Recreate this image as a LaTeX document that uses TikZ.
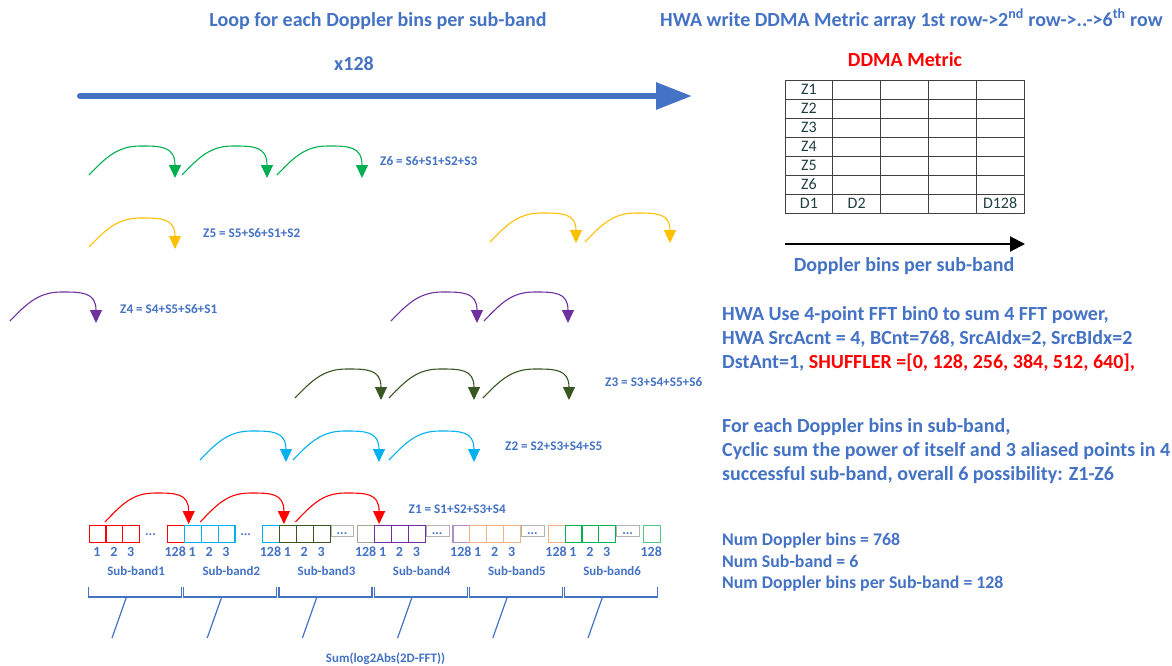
\documentclass[tikz,border=0pt]{standalone}
\usepackage{fontspec}
\setmainfont{Carlito}
\usetikzlibrary{arrows.meta,calc}
\definecolor{tiblue}{HTML}{4472C4}
\definecolor{cRed}{HTML}{FF0000}
\definecolor{cCyan}{HTML}{00B0F0}
\definecolor{cDkGreen}{HTML}{385723}
\definecolor{cPurple}{HTML}{7030A0}
\definecolor{cOrange}{HTML}{F4B183}
\definecolor{cGreen}{HTML}{00B050}
\definecolor{cYellow}{HTML}{FFC000}
\definecolor{cellText}{HTML}{203F3F}
\colorlet{cDkGreenL}{cDkGreen!50}
\colorlet{cPurpleL}{cPurple!55}
\colorlet{cGreenL}{cGreen!70}
\begin{document}
\begin{tikzpicture}[x=1pt,y=-1pt,
  big/.style={inner sep=0pt,text=tiblue,font=\bfseries\fontsize{20}{24}\selectfont,text height=12.9pt,text depth=0pt},
  mid/.style={big,font=\bfseries\fontsize{17.8}{21}\selectfont,text height=11.5pt},
  small/.style={inner sep=0pt,text=tiblue,font=\bfseries\fontsize{13.2}{15}\selectfont,text height=8.5pt,text depth=0pt},
  sbl/.style={small,font=\bfseries\fontsize{12.9}{15}\selectfont},
  num/.style={small,font=\bfseries\fontsize{14}{16}\selectfont,text height=9pt},
  cell/.style={draw=black!75,line width=0.8pt,minimum width=47.8pt,minimum height=19pt,inner sep=0pt,text=cellText,font=\fontsize{16}{18}\selectfont},
  bin/.style={draw,line width=1.1pt,minimum width=16.9pt,minimum height=16.7pt,inner sep=0pt,anchor=north west},
  gapbox/.style={draw=black!30,line width=1pt,minimum width=22.6pt,minimum height=11pt,inner sep=0pt,anchor=north west},
  arcline/.style={line width=1.1pt,-{Triangle[length=13pt,width=12pt]}},
  loop arc/.style={to path={let \p1=(\tikztostart),\p2=(\tikztotarget),
      \p3=({\x1+0.6*(\x2-\x1)},{\y1+29pt}) in
      .. controls ($(\p1)+(18pt,19pt)$) and ($(\p3)+(-22pt,0pt)$) .. (\p3)
      .. controls ($(\p3)+(20pt,0pt)$) and (\x2,\y3) .. (\tikztotarget)}},
  brace/.style={draw=tiblue,line width=1.2pt}
]
\fill[white] (0,0) rectangle (1172,665);
\useasboundingbox (0,0) rectangle (1172,665);

% headings and the loop arrow
\node[big] (loop) at (378,20) {Loop for each Doppler bins per sub-band};
\node[big] (x128) at (354,64) {x128};
\coordinate (loopA) at (80,96);
\coordinate (loopB) at (692,96);
\draw[tiblue,line width=6pt,line cap=round,-{Triangle[length=36pt,width=26pt]}] (loopA) -- (loopB);
\node[big,anchor=west] (hwa) at (660,20) {HWA write DDMA Metric array 1st row->2\textsuperscript{nd} row->..->6\textsuperscript{th} row};

% DDMA metric array
\node[big,text=cRed] (ddma) at (905,60) {DDMA Metric};
\foreach \r in {1,...,6}{
  \node[cell] (m-\r-1) at ({785+47.8*0.5},{80+19*(\r-0.5)}) {Z\r};
  \foreach \cc in {2,...,5}
    \node[cell] (m-\r-\cc) at ({785+47.8*(\cc-0.5)},{80+19*(\r-0.5)}) {};
}
\foreach \cc/\t in {1/D1,2/D2,3/,4/,5/D128}
  \node[cell] (m-7-\cc) at ({785+47.8*(\cc-0.5)},{80+19*6.5}) {\t};
\coordinate (dopA) at (785,244);
\coordinate (dopB) at (1025,244);
\draw[line width=2pt,-{Triangle[length=15pt,width=15pt]}] (dopA) -- (dopB);
\node[big] (dop) at (904,265) {Doppler bins per sub-band};

% description on the right
\node[big,anchor=west] (t1) at (722,314) {HWA Use 4-point FFT bin0 to sum 4 FFT power,};
\node[big,anchor=west] (t2) at (722,338) {HWA SrcAcnt = 4, BCnt=768, SrcAIdx=2, SrcBIdx=2};
\node[big,anchor=west] (t3) at (722,362) {DstAnt=1, \textcolor{cRed}{SHUFFLER =[0, 128, 256, 384, 512, 640],}};
\node[big,anchor=west] (t4) at (722,426) {For each Doppler bins in sub-band,};
\node[big,anchor=west] (t5) at (722,450) {Cyclic sum the power of itself and 3 aliased points in 4};
\node[big,anchor=west] (t6) at (722,474) {successful sub-band, overall 6 possibility: Z1-Z6};
\node[mid,anchor=west] (t7) at (722,540) {Num Doppler bins = 768};
\node[mid,anchor=west] (t8) at (722,562) {Num Sub-band = 6};
\node[mid,anchor=west] (t9) at (722,583) {Num Doppler bins per Sub-band = 128};

% aliasing hops for each combination
\foreach \nm/\col/\xa/\ya/\xb/\yb in {
  g1/cGreen/89/175/175/178, g2/cGreen/182/175/267/178, g3/cGreen/277/175/362/178,
  y1/cYellow/89/247/175/249, y2/cYellow/490/242/576/243, y3/cYellow/585/242/670/243,
  p1/cPurple/10/321/96/323, p2/cPurple/391/321/477/323, p3/cPurple/484/321/568/323,
  d1/cDkGreen/295/398/381/400, d2/cDkGreen/389/398/474/400, d3/cDkGreen/483/398/569/400,
  c1/cCyan/200/460/286/462, c2/cCyan/293/460/379/462, c3/cCyan/389/460/474/462}{
  \coordinate (\nm-s) at (\xa,\ya);
  \coordinate (\nm-t) at (\xb,\yb);
  \draw[arcline,\col] (\nm-s) to[loop arc] (\nm-t);
}
\node[small,anchor=west] (z6) at (380,161.7) {Z6 = S6+S1+S2+S3};
\node[small,anchor=west] (z5) at (203,233) {Z5 = S5+S6+S1+S2};
\node[small,anchor=west] (z4) at (120,309) {Z4 = S4+S5+S6+S1};
\node[small,anchor=west] (z3) at (605,382.7) {Z3 = S3+S4+S5+S6};
\node[small,anchor=west] (z2) at (505,446) {Z2 = S2+S3+S4+S5};
\node[small,anchor=west] (z1) at (408.5,509) {Z1 = S1+S2+S3+S4};

% sub-bands of Doppler bins
\foreach \k/\col/\colb/\gap in {1/cRed/cRed/0,2/cCyan/cCyan/0,3/cDkGreen/cDkGreenL/1,
    4/cPurple/cPurpleL/1,5/cOrange/cOrange/1,6/cGreen/cGreenL/1}{
  \pgfmathsetmacro\s{88.5+95.2*(\k-1)}
  \node[bin,draw=\col] (b\k-1) at (\s,525) {};
  \node[bin,draw=\col] (b\k-2) at (\s+16.9,525) {};
  \node[bin,draw=\col] (b\k-3) at (\s+33.8,525) {};
  \node[bin,draw=\colb] (b\k-128) at (\s+78.3,525) {};
  \ifnum\gap=1
    \node[gapbox] (g\k) at (\s+51.8,525) {};
    \node[small] (gd\k) at (\s+63.1,530.5) {...};
  \else
    \node[small] (gd\k) at (\s+62,531) {...};
  \fi
  \node[num] (n\k-1) at (\s+8.45,551.7) {1};
  \node[num] (n\k-2) at (\s+25.35,551.7) {2};
  \node[num] (n\k-3) at (\s+42.25,551.7) {3};
  \node[num] (n\k-128) at (\s+86.75,551.7) {128};
  \node[sbl] (sb\k) at (\s+47.6,571.7) {Sub-band\k};
  \draw[brace] (\s,587) -- (\s,597) -- (\s+93,597) -- (\s+93,587);
  \draw[brace] (\s+38,597) -- (\s+23.5,638);
}
\node[sbl] (sum) at (385.5,658) {Sum(log2Abs(2D-FFT))};

% hops between neighbouring sub-bands
\foreach \k/\kk in {1/2,2/3,3/4}
  \draw[arcline,cRed] ([shift={(-1.5pt,3pt)}]b\k-1.north east) to[loop arc] ([shift={(-4pt,1pt)}]b\kk-1.north);
\end{tikzpicture}
\end{document}
